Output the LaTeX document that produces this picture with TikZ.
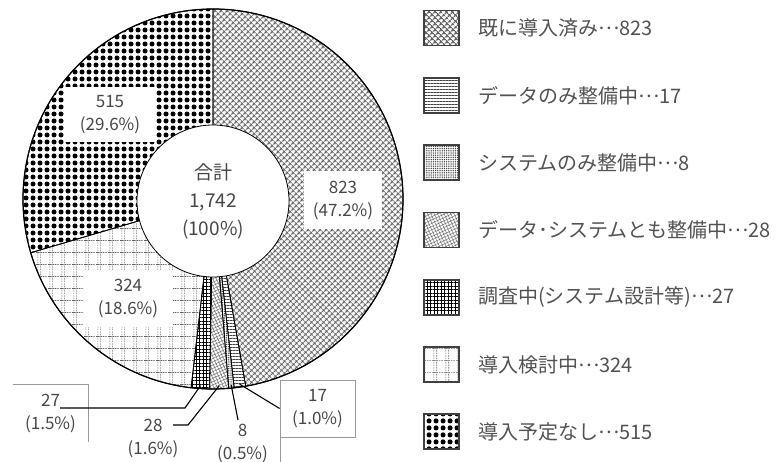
\documentclass[tikz,border=0pt]{standalone}
\usepackage{fontspec}
\setmainfont{Noto Sans CJK JP}
\usetikzlibrary{patterns,patterns.meta,calc}

\pgfdeclarepattern{
  name=plaid, type=uncolored,
  bottom left={\pgfpoint{0pt}{0pt}}, top right={\pgfpoint{12pt}{12pt}},
  tile size={\pgfpoint{12pt}{12pt}},
  code={
    \pgfsetlinewidth{0.7pt}
    \pgfsetdash{{1.5pt}{1pt}}{0pt}
    \pgfpathmoveto{\pgfpoint{2pt}{0pt}}\pgfpathlineto{\pgfpoint{2pt}{12pt}}
    \pgfpathmoveto{\pgfpoint{5pt}{0pt}}\pgfpathlineto{\pgfpoint{5pt}{12pt}}
    \pgfpathmoveto{\pgfpoint{0pt}{6pt}}\pgfpathlineto{\pgfpoint{12pt}{6pt}}
    \pgfusepath{stroke}
  }}

\newcommand\dotsmid{\raisebox{0.3em}{…}}

\tikzset{
  pA/.style={pattern={Hatch[angle=45,distance=4pt,line width=1.2pt]}, pattern color=black!60},
  pB/.style={pattern={Lines[angle=0,distance=3pt,line width=0.7pt]}, pattern color=black!75},
  pC/.style={pattern={Dots[distance=2.2pt,radius=0.75pt]}, pattern color=black!75},
  pD/.style={pattern={Hatch[angle=25,distance=3pt,line width=0.5pt]}, pattern color=black!55},
  pE/.style={pattern={Hatch[angle=0,distance=3.5pt,line width=0.9pt]}, pattern color=black},
  pF/.style={pattern=plaid, pattern color=black!62},
  pG/.style={pattern={Dots[distance=6.5pt,radius=2.7pt]}, pattern color=black},
  wedge/.style={draw=black, line width=0.8pt},
  numtxt/.style={text=black!72, font=\fontsize{17}{23}\selectfont, align=center, inner sep=0pt},
  whitebox/.style={numtxt, fill=white, minimum width=#1},
  outbox/.style={numtxt, minimum width=75pt, minimum height=57pt},
  grayline/.style={draw=black!40, line width=0.8pt},
  lead/.style={draw=black, line width=1.1pt},
  legsq/.style={draw=black!75, line width=1.8pt, minimum size=35pt, inner sep=0pt},
  legtxt/.style={text=black!68, font=\fontsize{20}{24}\selectfont, anchor=west, inner sep=0pt},
}

\begin{document}
\begin{tikzpicture}[x=1pt,y=1pt]
\useasboundingbox (0,0) rectangle (783,461);
\coordinate (C) at (213,262);
\def\R{190}

% slices (clockwise from 12 o'clock)
\filldraw[wedge,pA] (C) -- ++(90:\R) arc[start angle=90,end angle=-80.08,radius=\R] -- cycle;
\filldraw[wedge,pB] (C) -- ++(-80.08:\R) arc[start angle=-80.08,end angle=-83.59,radius=\R] -- cycle;
\filldraw[wedge,pC] (C) -- ++(-83.59:\R) arc[start angle=-83.59,end angle=-85.25,radius=\R] -- cycle;
\filldraw[wedge,pD] (C) -- ++(-85.25:\R) arc[start angle=-85.25,end angle=-91.03,radius=\R] -- cycle;
\filldraw[wedge,pE] (C) -- ++(-91.03:\R) arc[start angle=-91.03,end angle=-96.61,radius=\R] -- cycle;
\filldraw[wedge,pF] (C) -- ++(-96.61:\R) arc[start angle=-96.61,end angle=-163.57,radius=\R] -- cycle;
\filldraw[wedge,pG] (C) -- ++(-163.57:\R) arc[start angle=-163.57,end angle=-270,radius=\R] -- cycle;
\draw[line width=1.2pt] (C) circle[radius=\R];

% centre
\node[circle, fill=white, draw=black, line width=0.8pt, minimum size=152pt, inner sep=0pt,
      text=black!72, font=\fontsize{19}{28}\selectfont, align=center] (total) at (213,260)
      {合計\\1,742\\(100\%)};

% labels inside the ring
\node[whitebox=78pt, minimum height=58pt] (l823) at (343,261) {823\\(47.2\%)};
\node[whitebox=90pt, minimum height=55pt] (l515) at (110,346) {515\\(29.6\%)};
\node[whitebox=90pt, minimum height=57pt] (l324) at (128,163) {324\\(18.6\%)};

% outside labels
\node[outbox] (l27) at (50.5,47.5) {27\\(1.5\%)};
\node[outbox] (l28) at (153,22.5) {28\\(1.6\%)};
\node[outbox] (l8) at (242.5,18) {8\\(0.5\%)};
\node[outbox, grayline] (l17) at (317.5,52.5) {17\\(1.0\%)};
\draw[grayline] (l27.north west) -- (l27.north east) -- (l27.south east);
\draw[grayline] (l8.north east) -- (l8.south east);

% leader lines
\coordinate (s17) at ($(C)+(-81.84:187)$);
\coordinate (s8)  at ($(C)+(-84.42:187)$);
\coordinate (s28) at ($(C)+(-88.14:187)$);
\coordinate (s27) at ($(C)+(-93.82:187)$);
\coordinate (k27) at (185,53);
\coordinate (e27) at (60,53);
\coordinate (k28) at (188,36);
\coordinate (e28) at (173,36);
\coordinate (e8)  at (238,41);
\draw[lead] (s27) -- (k27) -- (e27);
\draw[lead] (s28) -- (k28) -- (e28);
\draw[lead] (s8) -- (e8);
\draw[lead] (s17) -- (l17.west);

% legend
\foreach \i/\p/\t in {0/pA/既に導入済み\dotsmid823, 1/pB/データのみ整備中\dotsmid17, 2/pC/システムのみ整備中\dotsmid8,
  3/pD/データ･システムとも整備中\dotsmid28, 4/pE/調査中(システム設計等)\dotsmid27, 5/pF/導入検討中\dotsmid324, 6/pG/導入予定なし\dotsmid515}{
  \node[legsq, \p] (sq\i) at (441.5, 433-67.3*\i) {};
  \node[legtxt] (lt\i) at (478, 433-67.3*\i) {\t};
}
\end{tikzpicture}
\end{document}
